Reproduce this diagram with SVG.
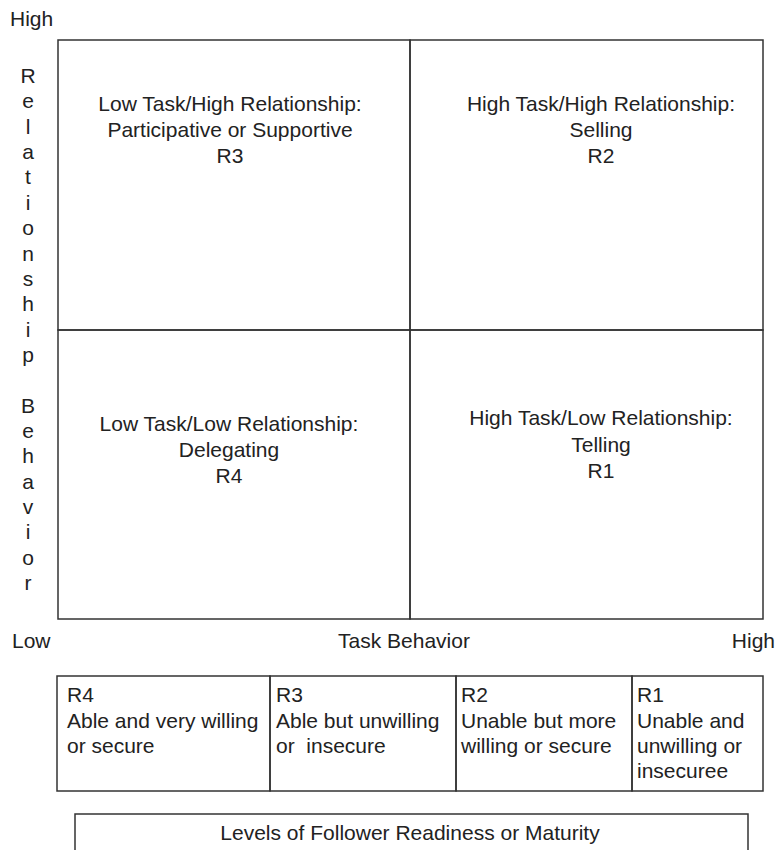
<svg xmlns="http://www.w3.org/2000/svg" width="776" height="850" viewBox="0 0 776 850">
<style>
.t{font-family:"Liberation Sans",Arial,sans-serif;font-size:21px;fill:#222}
.c{text-anchor:middle}
.b{fill:none;stroke:#333;stroke-width:1.5}
</style>
<rect width="776" height="850" fill="#fff"/>
<g id="axis-y">
<text class="t" x="10" y="26">High</text>
<text class="t c" x="28" y="83">R</text>
<text class="t c" x="28" y="108.4">e</text>
<text class="t c" x="28" y="133.7">l</text>
<text class="t c" x="28" y="159.1">a</text>
<text class="t c" x="28" y="184.4">t</text>
<text class="t c" x="28" y="209.8">i</text>
<text class="t c" x="28" y="235.1">o</text>
<text class="t c" x="28" y="260.5">n</text>
<text class="t c" x="28" y="285.8">s</text>
<text class="t c" x="28" y="311.2">h</text>
<text class="t c" x="28" y="336.5">i</text>
<text class="t c" x="28" y="361.9">p</text>
<text class="t c" x="28" y="412.6">B</text>
<text class="t c" x="28" y="437.9">e</text>
<text class="t c" x="28" y="463.3">h</text>
<text class="t c" x="28" y="488.6">a</text>
<text class="t c" x="28" y="514">v</text>
<text class="t c" x="28" y="539.3">i</text>
<text class="t c" x="28" y="564.7">o</text>
<text class="t c" x="28" y="590">r</text>
</g>
<g id="q3">
<rect class="b" x="58" y="40" width="352" height="290"/>
<text class="t c" x="230" y="111">Low Task/High Relationship:</text>
<text class="t c" x="230" y="137">Participative or Supportive</text>
<text class="t c" x="230" y="163">R3</text>
</g>
<g id="q2">
<rect class="b" x="410" y="40" width="353" height="290"/>
<text class="t c" x="601" y="111">High Task/High Relationship:</text>
<text class="t c" x="601" y="137">Selling</text>
<text class="t c" x="601" y="163">R2</text>
</g>
<g id="q4">
<rect class="b" x="58" y="330" width="352" height="289"/>
<text class="t c" x="229" y="431">Low Task/Low Relationship:</text>
<text class="t c" x="229" y="457">Delegating</text>
<text class="t c" x="229" y="483">R4</text>
</g>
<g id="q1">
<rect class="b" x="410" y="330" width="353" height="289"/>
<text class="t c" x="601" y="425">High Task/Low Relationship:</text>
<text class="t c" x="601" y="451.5">Telling</text>
<text class="t c" x="601" y="478">R1</text>
</g>
<g id="axis-x">
<text class="t" x="12" y="648">Low</text>
<text class="t c" x="404" y="648">Task Behavior</text>
<text class="t" x="775" y="648" text-anchor="end">High</text>
</g>
<g id="r4">
<rect class="b" x="57" y="676" width="213" height="115"/>
<text class="t" x="67" y="702">R4</text>
<text class="t" x="67" y="727.5">Able and very willing</text>
<text class="t" x="67" y="753">or secure</text>
</g>
<g id="r3">
<rect class="b" x="270" y="676" width="186" height="115"/>
<text class="t" x="276" y="702">R3</text>
<text class="t" x="276" y="727.5">Able but unwilling</text>
<text class="t" x="276" y="753" xml:space="preserve">or  insecure</text>
</g>
<g id="r2">
<rect class="b" x="456" y="676" width="176" height="115"/>
<text class="t" x="461" y="702">R2</text>
<text class="t" x="461" y="727.5">Unable but more</text>
<text class="t" x="461" y="753">willing or secure</text>
</g>
<g id="r1">
<rect class="b" x="632" y="676" width="131" height="115"/>
<text class="t" x="637" y="702">R1</text>
<text class="t" x="637" y="727.5">Unable and</text>
<text class="t" x="637" y="753">unwilling or</text>
<text class="t" x="637" y="778">insecuree</text>
</g>
<g id="levels">
<path class="b" d="M75,852 V814 H748 V852"/>
<text class="t c" x="410" y="840">Levels of Follower Readiness or Maturity</text>
</g>
<g id="connectors"/>
</svg>
